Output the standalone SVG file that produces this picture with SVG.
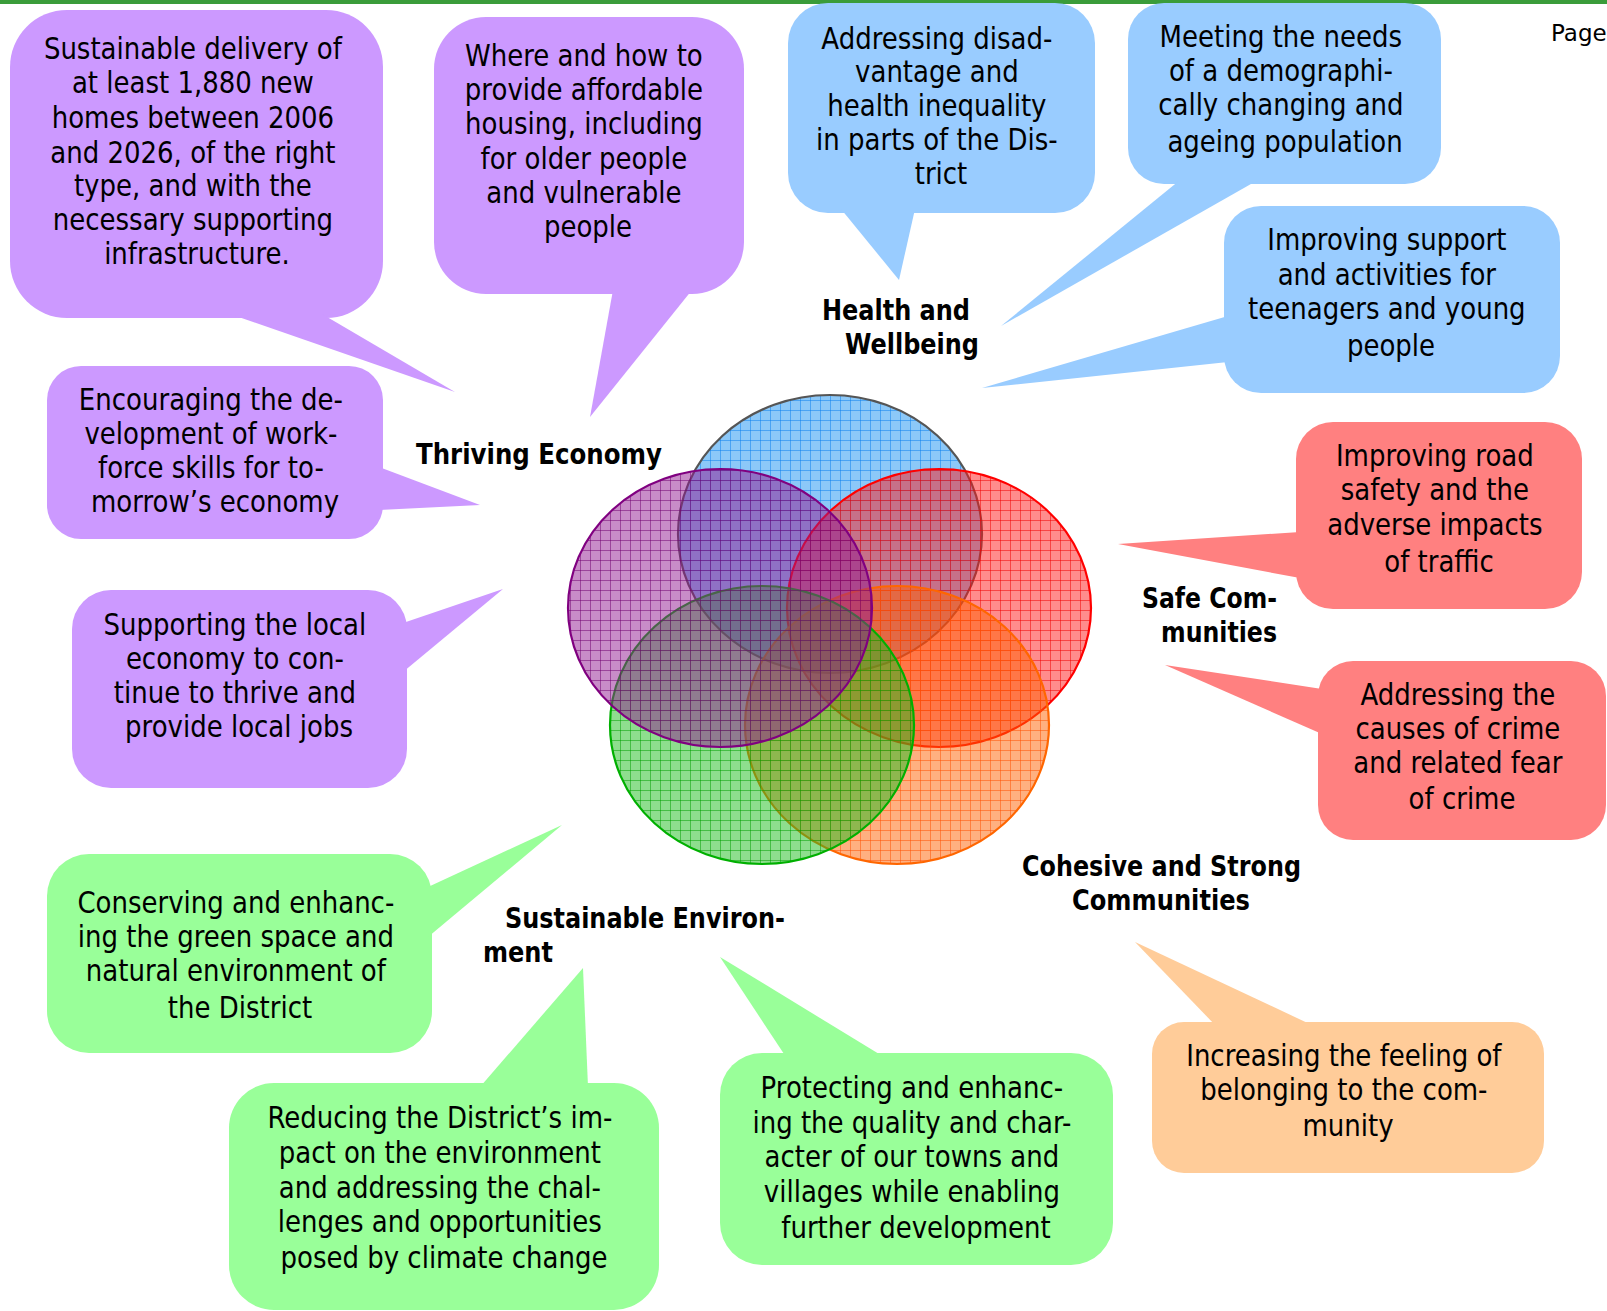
<svg xmlns="http://www.w3.org/2000/svg" width="1607" height="1311" viewBox="0 0 1607 1311">
<style>
  .purple { fill: #cc99ff; }
  .blue { fill: #99ccff; }
  .red { fill: #ff8080; }
  .green { fill: #99ff99; }
  .orange { fill: #ffcc99; }
  .body { font-family: "DejaVu Sans", "Liberation Sans", sans-serif; font-size: 30px; fill: #000; text-anchor: middle; }
  .label { font-family: "DejaVu Sans", "Liberation Sans", sans-serif; font-size: 29px; font-weight: bold; fill: #000; }
  .page { font-family: "DejaVu Sans", "Liberation Sans", sans-serif; font-size: 23px; fill: #000; }
  .ring { stroke-width: 2.2; }
</style>
<defs>
  <pattern id="pBlue" width="10" height="10" patternUnits="userSpaceOnUse">
    <rect width="10" height="10" fill="#1991f1" fill-opacity="0.5"/>
    <path d="M0 0.5H10M0.5 0V10" stroke="#0a80f0" stroke-opacity="0.5" stroke-width="1"/>
  </pattern>
  <pattern id="pPurple" width="10" height="10" patternUnits="userSpaceOnUse">
    <rect width="10" height="10" fill="#911991" fill-opacity="0.5"/>
    <path d="M0 0.5H10M0.5 0V10" stroke="#700070" stroke-opacity="0.5" stroke-width="1"/>
  </pattern>
  <pattern id="pRed" width="10" height="10" patternUnits="userSpaceOnUse">
    <rect width="10" height="10" fill="#ff1919" fill-opacity="0.5"/>
    <path d="M0 0.5H10M0.5 0V10" stroke="#f00000" stroke-opacity="0.5" stroke-width="1"/>
  </pattern>
  <pattern id="pGreen" width="10" height="10" patternUnits="userSpaceOnUse">
    <rect width="10" height="10" fill="#1dbd1d" fill-opacity="0.5"/>
    <path d="M0 0.5H10M0.5 0V10" stroke="#00a000" stroke-opacity="0.5" stroke-width="1"/>
  </pattern>
  <pattern id="pOrange" width="10" height="10" patternUnits="userSpaceOnUse">
    <rect width="10" height="10" fill="#ff6101" fill-opacity="0.5"/>
    <path d="M0 0.5H10M0.5 0V10" stroke="#ff5000" stroke-opacity="0.5" stroke-width="1"/>
  </pattern>
</defs>

<rect x="0" y="0" width="1607" height="4" fill="#3a9c3a"/>
<text class="page" x="1551" y="41">Page</text>

<g id="venn">
  <ellipse id="c-health" class="ring" cx="830" cy="534" rx="152" ry="139" fill="url(#pBlue)" stroke="#555555"/>
  <ellipse id="c-safe" class="ring" cx="939" cy="608" rx="152" ry="139" fill="url(#pRed)" stroke="#ff0000"/>
  <ellipse id="c-cohesive" class="ring" cx="897" cy="725" rx="152" ry="139" fill="url(#pOrange)" stroke="#ff6600"/>
  <ellipse id="c-env" class="ring" cx="762" cy="725" rx="152" ry="139" fill="url(#pGreen)" stroke="#00b000"/>
  <ellipse id="c-economy" class="ring" cx="720" cy="608" rx="152" ry="139" fill="url(#pPurple)" stroke="#800080"/>
</g>

<g id="labels">
  <text class="label" x="822" y="320" textLength="148" lengthAdjust="spacingAndGlyphs">Health and</text>
  <text class="label" x="845" y="354" textLength="134" lengthAdjust="spacingAndGlyphs">Wellbeing</text>
  <text class="label" x="416" y="464" textLength="246" lengthAdjust="spacingAndGlyphs">Thriving Economy</text>
  <text class="label" x="1142" y="608" textLength="135" lengthAdjust="spacingAndGlyphs">Safe Com-</text>
  <text class="label" x="1161" y="642" textLength="116" lengthAdjust="spacingAndGlyphs">munities</text>
  <text class="label" x="1022" y="876" textLength="279" lengthAdjust="spacingAndGlyphs">Cohesive and Strong</text>
  <text class="label" x="1072" y="910" textLength="178" lengthAdjust="spacingAndGlyphs">Communities</text>
  <text class="label" x="505" y="928" textLength="280" lengthAdjust="spacingAndGlyphs">Sustainable Environ-</text>
  <text class="label" x="483" y="962" textLength="70" lengthAdjust="spacingAndGlyphs">ment</text>
</g>

<g id="connectors">
</g>

<g id="callout-homes">
  <rect class="purple" x="10" y="10" width="373" height="308" rx="57"/>
  <polygon class="purple" points="230,314 322,314 455,392"/>
  <text class="body" transform="translate(197 0) scale(0.867 1)">
    <tspan x="0" y="59">Sustainable delivery of</tspan>
    <tspan x="0" y="93">at least 1,880 new</tspan>
    <tspan x="0" y="128">homes between 2006</tspan>
    <tspan x="0" y="163">and 2026, of the right</tspan>
    <tspan x="0" y="196">type, and with the</tspan>
    <tspan x="0" y="230">necessary supporting</tspan>
    <tspan x="0" y="264">infrastructure.</tspan>
  </text>
</g>

<g id="callout-housing">
  <rect class="purple" x="434" y="17" width="310" height="277" rx="52"/>
  <polygon class="purple" points="613,290 692,290 590,417"/>
  <text class="body" transform="translate(588 0) scale(0.867 1)">
    <tspan x="0" y="66">Where and how to</tspan>
    <tspan x="0" y="100">provide affordable</tspan>
    <tspan x="0" y="134">housing, including</tspan>
    <tspan x="0" y="169">for older people</tspan>
    <tspan x="0" y="203">and vulnerable</tspan>
    <tspan x="0" y="237">people</tspan>
  </text>
</g>

<g id="callout-disadvantage">
  <rect class="blue" x="788" y="3" width="307" height="210" rx="40"/>
  <polygon class="blue" points="841,209 915,209 899,280"/>
  <text class="body" transform="translate(941 0) scale(0.867 1)">
    <tspan x="0" y="49">Addressing disad-</tspan>
    <tspan x="0" y="82">vantage and</tspan>
    <tspan x="0" y="116">health inequality</tspan>
    <tspan x="0" y="150">in parts of the Dis-</tspan>
    <tspan x="0" y="184">trict</tspan>
  </text>
</g>

<g id="callout-ageing">
  <rect class="blue" x="1128" y="3" width="313" height="181" rx="36"/>
  <polygon class="blue" points="1180,180 1258,180 1001,326"/>
  <text class="body" transform="translate(1285 0) scale(0.867 1)">
    <tspan x="0" y="47">Meeting the needs</tspan>
    <tspan x="0" y="81">of a demographi-</tspan>
    <tspan x="0" y="115">cally changing and</tspan>
    <tspan x="0" y="152">ageing population</tspan>
  </text>
</g>

<g id="callout-young">
  <rect class="blue" x="1224" y="206" width="336" height="187" rx="37"/>
  <polygon class="blue" points="1228,316 1228,362 982,388"/>
  <text class="body" transform="translate(1391 0) scale(0.867 1)">
    <tspan x="0" y="250">Improving support</tspan>
    <tspan x="0" y="285">and activities for</tspan>
    <tspan x="0" y="319">teenagers and young</tspan>
    <tspan x="0" y="356">people</tspan>
  </text>
</g>

<g id="callout-skills">
  <rect class="purple" x="47" y="366" width="336" height="173" rx="34"/>
  <polygon class="purple" points="379,467 379,510 480,505"/>
  <text class="body" transform="translate(215 0) scale(0.867 1)">
    <tspan x="0" y="410">Encouraging the de-</tspan>
    <tspan x="0" y="444">velopment of work-</tspan>
    <tspan x="0" y="478">force skills for to-</tspan>
    <tspan x="0" y="512">morrow’s economy</tspan>
  </text>
</g>

<g id="callout-jobs">
  <rect class="purple" x="72" y="590" width="335" height="198" rx="39"/>
  <polygon class="purple" points="403,623 403,672 503,589"/>
  <text class="body" transform="translate(239 0) scale(0.867 1)">
    <tspan x="0" y="635">Supporting the local</tspan>
    <tspan x="0" y="669">economy to con-</tspan>
    <tspan x="0" y="703">tinue to thrive and</tspan>
    <tspan x="0" y="737">provide local jobs</tspan>
  </text>
</g>

<g id="callout-green">
  <rect class="green" x="47" y="854" width="385" height="199" rx="42"/>
  <polygon class="green" points="428,887 428,937 562,825"/>
  <text class="body" transform="translate(240 0) scale(0.867 1)">
    <tspan x="0" y="913">Conserving and enhanc-</tspan>
    <tspan x="0" y="947">ing the green space and</tspan>
    <tspan x="0" y="981">natural environment of</tspan>
    <tspan x="0" y="1018">the District</tspan>
  </text>
</g>

<g id="callout-climate">
  <rect class="green" x="229" y="1083" width="430" height="227" rx="45"/>
  <polygon class="green" points="480,1087 588,1087 583,968"/>
  <text class="body" transform="translate(444 0) scale(0.867 1)">
    <tspan x="0" y="1128">Reducing the District’s im-</tspan>
    <tspan x="0" y="1163">pact on the environment</tspan>
    <tspan x="0" y="1198">and addressing the chal-</tspan>
    <tspan x="0" y="1232">lenges and opportunities</tspan>
    <tspan x="0" y="1268">posed by climate change</tspan>
  </text>
</g>

<g id="callout-towns">
  <rect class="green" x="720" y="1053" width="393" height="212" rx="42"/>
  <polygon class="green" points="786,1057 884,1057 720,957"/>
  <text class="body" transform="translate(916 0) scale(0.867 1)">
    <tspan x="0" y="1098">Protecting and enhanc-</tspan>
    <tspan x="0" y="1133">ing the quality and char-</tspan>
    <tspan x="0" y="1167">acter of our towns and</tspan>
    <tspan x="0" y="1202">villages while enabling</tspan>
    <tspan x="0" y="1238">further development</tspan>
  </text>
</g>

<g id="callout-belonging">
  <rect class="orange" x="1152" y="1022" width="392" height="151" rx="32"/>
  <polygon class="orange" points="1216,1026 1314,1026 1135,942"/>
  <text class="body" transform="translate(1348 0) scale(0.867 1)">
    <tspan x="0" y="1066">Increasing the feeling of</tspan>
    <tspan x="0" y="1100">belonging to the com-</tspan>
    <tspan x="0" y="1136">munity</tspan>
  </text>
</g>

<g id="callout-road">
  <rect class="red" x="1296" y="422" width="286" height="187" rx="37"/>
  <polygon class="red" points="1300,532 1300,578 1118,544"/>
  <text class="body" transform="translate(1439 0) scale(0.867 1)">
    <tspan x="0" y="466">Improving road</tspan>
    <tspan x="0" y="500">safety and the</tspan>
    <tspan x="0" y="535">adverse impacts</tspan>
    <tspan x="0" y="572">of traffic</tspan>
  </text>
</g>

<g id="callout-crime">
  <rect class="red" x="1318" y="661" width="288" height="179" rx="35"/>
  <polygon class="red" points="1322,689 1322,734 1165,665"/>
  <text class="body" transform="translate(1462 0) scale(0.867 1)">
    <tspan x="0" y="705">Addressing the</tspan>
    <tspan x="0" y="739">causes of crime</tspan>
    <tspan x="0" y="773">and related fear</tspan>
    <tspan x="0" y="809">of crime</tspan>
  </text>
</g>
</svg>
